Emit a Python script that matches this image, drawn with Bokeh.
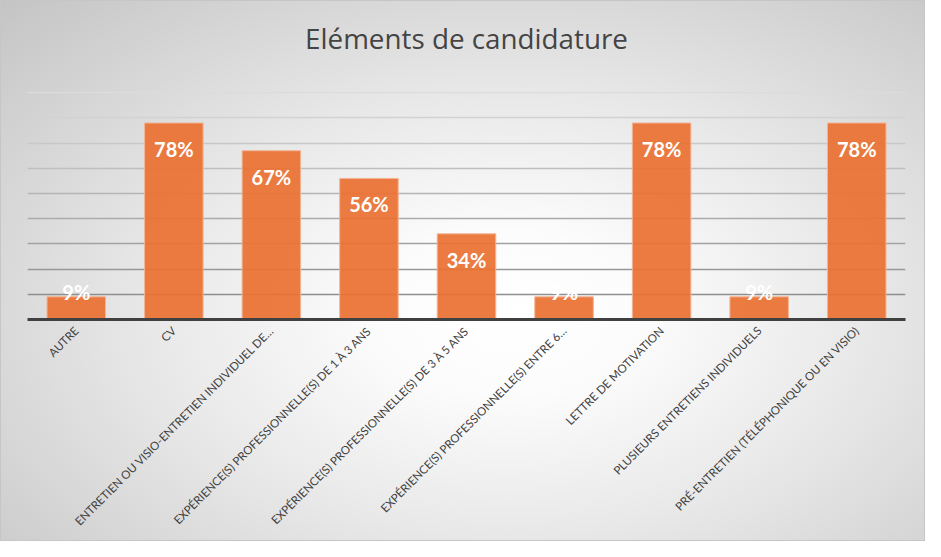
from math import pi
from bokeh.plotting import figure
from bokeh.models import Range1d, Grid, FixedTicker, ColumnDataSource, Title
from bokeh.core.properties import value
from bokeh.embed import file_html
from bokeh.resources import INLINE

# ---- data ----
title_text = "Eléments de candidature"
categories = [
    "AUTRE",
    "CV",
    "ENTRETIEN OU VISIO-ENTRETIEN INDIVIDUEL DE…",
    "EXPÉRIENCE(S) PROFESSIONNELLE(S) DE 1 À 3 ANS",
    "EXPÉRIENCE(S) PROFESSIONNELLE(S) DE 3 À 5 ANS",
    "EXPÉRIENCE(S) PROFESSIONNELLE(S) ENTRE 6…",
    "LETTRE DE MOTIVATION",
    "PLUSIEURS ENTRETIENS INDIVIDUELS",
    "PRÉ-ENTRETIEN (TÉLÉPHONIQUE OU EN VISIO)",
]
values = [9, 78, 67, 56, 34, 9, 78, 9, 78]
grid_ticks = [10, 20, 30, 40, 50, 60, 70, 80, 90]
y_max = 90.5

# ---- styling helpers ----
labels = [f"{v}%" for v in values]
label_offsets = [26 if v > 15 else -5 for v in values]
src = ColumnDataSource(dict(cat=categories, val=values, lab=labels, off=label_offsets))

p = figure(
    x_range=categories,
    y_range=Range1d(0, y_max),
    width=925, height=541,
    frame_width=878, frame_height=228,
    min_border_left=27, min_border_right=20,
    min_border_top=91, min_border_bottom=222,
    output_backend="svg", toolbar_location=None,
)
p.styles = {
    "background": "radial-gradient(ellipse farthest-corner at 55% 58%, #ffffff 0%, #fcfcfc 18%, #e8e8e8 50%, #c4c4c4 100%)",
    "box-shadow": "inset 0 0 0 1px #c6c6c6",
}
p.background_fill_alpha = 0
p.border_fill_alpha = 0
p.outline_line_color = None

# spacer between the title and the plot area
p.add_layout(Title(text=" ", text_font_size="10px", standoff=22), "above")
p.add_layout(Title(text=title_text, align="center", text_font="Open Sans",
                   text_font_size="27.8px", text_font_style="normal",
                   text_color="#444444", standoff=0), "above")

# gridlines: light at top, darker toward the axis
p.xgrid.visible = False
p.ygrid.visible = False
n = len(grid_ticks)
for i, t in enumerate(grid_ticks):
    f = i / (n - 1)
    g = int(round(0x8e + (0xdc - 0x8e) * f))
    col = "#%02x%02x%02x" % (g, g, g)
    p.center.append(Grid(dimension=1, ticker=FixedTicker(ticks=[t]), grid_line_color=col, grid_line_width=1.5))

p.vbar(x="cat", top="val", width=0.6, source=src,
       fill_color="#E97132", fill_alpha=0.93, line_color="#F2B596", line_width=1)

p.text(x="cat", y="val", text="lab", source=src, y_offset="off",
       text_align="center", text_baseline="middle",
       text_font=value("Lato"), text_font_style="bold", text_font_size="20px",
       text_color="white")

p.yaxis.visible = False
xa = p.xaxis[0]
xa.axis_line_color = "#404040"
xa.axis_line_width = 3
xa.major_tick_line_color = None
xa.minor_tick_line_color = None
xa.major_label_orientation = pi / 4
xa.major_label_text_font = "Lato"
xa.major_label_text_font_size = "11.5px"
xa.major_label_text_color = "#404040"
xa.major_label_standoff = 3

open("out.html", "w").write(file_html(p, INLINE))
